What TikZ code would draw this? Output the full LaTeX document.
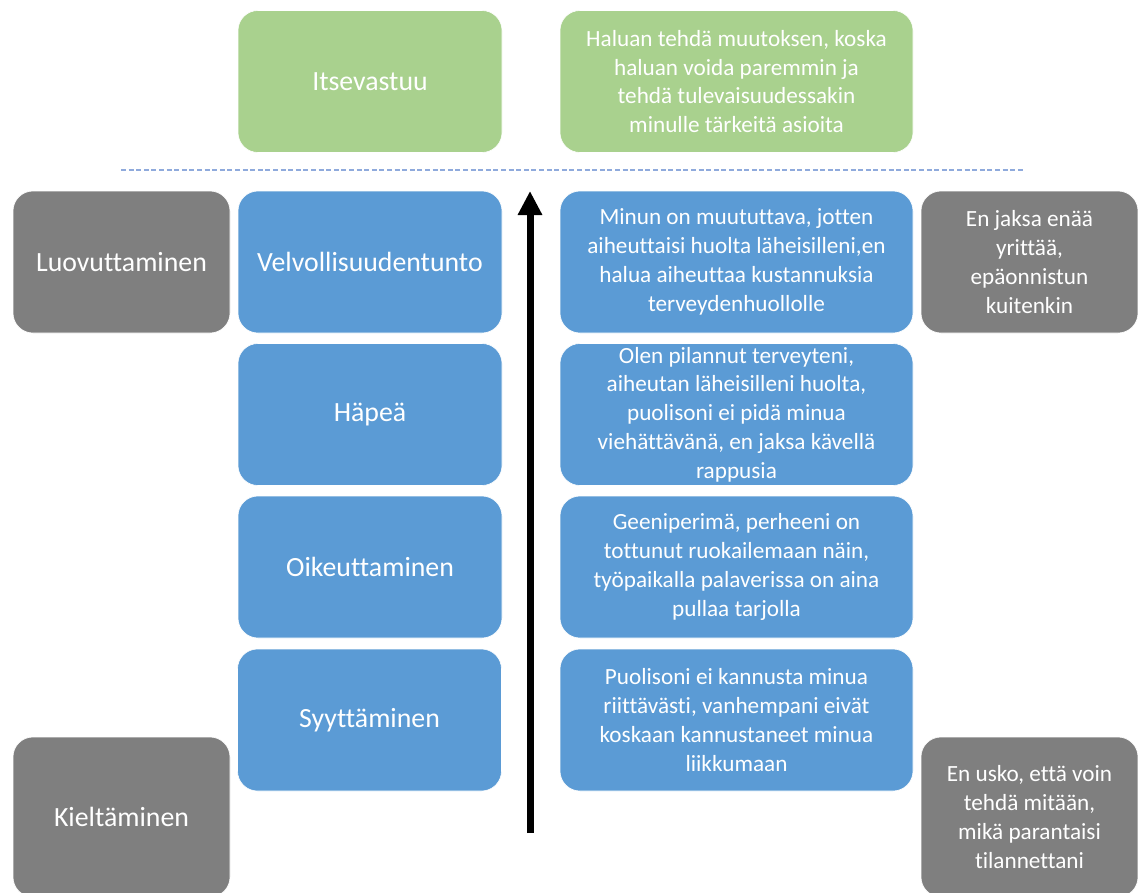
\documentclass[tikz,border=0pt]{standalone}
\usepackage{fontspec}
\setmainfont{Carlito}[Ligatures=CommonOff]
\usetikzlibrary{arrows.meta}
\definecolor{boxgreen}{RGB}{169,209,142}
\definecolor{boxblue}{RGB}{91,155,213}
\definecolor{boxgray}{RGB}{127,127,127}
\definecolor{dashblue}{RGB}{143,170,220}
\tikzset{
  card/.style={rectangle, rounded corners=20pt, inner sep=0pt, text=white,
    align=center, draw=white, line width=0.6pt},
  label/.style={card, font=\fontsize{27.8}{33}\selectfont},
  desc/.style={card, font=\fontsize{23.2}{28.8}\selectfont},
  labelbox/.style={minimum width=264pt, minimum height=142pt},
  descbox/.style={minimum width=353pt, minimum height=142pt},
  sidebox/.style={minimum width=217pt},
  greencard/.style={fill=boxgreen},
  bluecard/.style={fill=boxblue},
  graycard/.style={fill=boxgray},
  divider/.style={draw=dashblue, line width=1.6pt, dash pattern=on 5pt off 2.6pt},
  riser/.style={draw=black, line width=7pt,
    -{Triangle[width=23pt,length=24pt]}}
}
\begin{document}
\begin{tikzpicture}[x=1pt, y=-1pt]
\useasboundingbox (0,0) rectangle (1138,892);
\clip (0,0) rectangle (1138,892);

% top level: self-responsibility
\node[label, labelbox, greencard] (itse) at (370,81.5) {Itsevastuu};
\node[desc, descbox, greencard] (itsed) at (736.5,81.5)
  {Haluan tehdä muutoksen, koska\\haluan voida paremmin ja\\tehdä tulevaisuudessakin\\minulle tärkeitä asioita};

% dividing line
\coordinate (divl) at (121,170);
\coordinate (divr) at (1024,170);
\draw[divider] (divl) -- (divr);

% blue stages
\node[label, labelbox, bluecard] (velv) at (370,262) {Velvollisuudentunto};
\node[desc, descbox, bluecard] (velvd) at (736.5,262)
  {Minun on muututtava, jotten\\aiheuttaisi huolta läheisilleni,en\\halua aiheuttaa kustannuksia\\terveydenhuollolle};

\node[label, labelbox, bluecard] (hape) at (370,414.5) {Häpeä};
\node[desc, descbox, bluecard] (haped) at (736.5,414.5)
  {Olen pilannut terveyteni,\\aiheutan läheisilleni huolta,\\puolisoni ei pidä minua\\viehättävänä, en jaksa kävellä\\rappusia};

\node[label, labelbox, bluecard] (oik) at (370,567) {Oikeuttaminen};
\node[desc, descbox, bluecard] (oikd) at (736.5,567)
  {Geeniperimä, perheeni on\\tottunut ruokailemaan näin,\\työpaikalla palaverissa on aina\\pullaa tarjolla};

\node[label, labelbox, bluecard] (syyt) at (369.5,720) {Syyttäminen};
\node[desc, descbox, bluecard] (syytd) at (736.5,720)
  {Puolisoni ei kannusta minua\\riittävästi, vanhempani eivät\\koskaan kannustaneet minua\\liikkumaan};

% gray side boxes
\node[label, sidebox, graycard, minimum height=142pt] (luov) at (121.5,262) {Luovuttaminen};
\node[desc, sidebox, graycard, minimum height=142pt] (luovd) at (1029.5,262)
  {En jaksa enää\\yrittää,\\epäonnistun\\kuitenkin};

\node[label, sidebox, graycard, minimum height=160pt] (kiel) at (121.5,817) {Kieltäminen};
\node[desc, sidebox, graycard, minimum height=160pt] (kield) at (1029.5,817)
  {En usko, että voin\\tehdä mitään,\\mikä parantaisi\\tilannettani};

% upward arrow
\coordinate (arrbot) at (530,833);
\coordinate (arrtop) at (530,191);
\draw[riser] (arrbot) -- (arrtop);
\end{tikzpicture}
\end{document}
